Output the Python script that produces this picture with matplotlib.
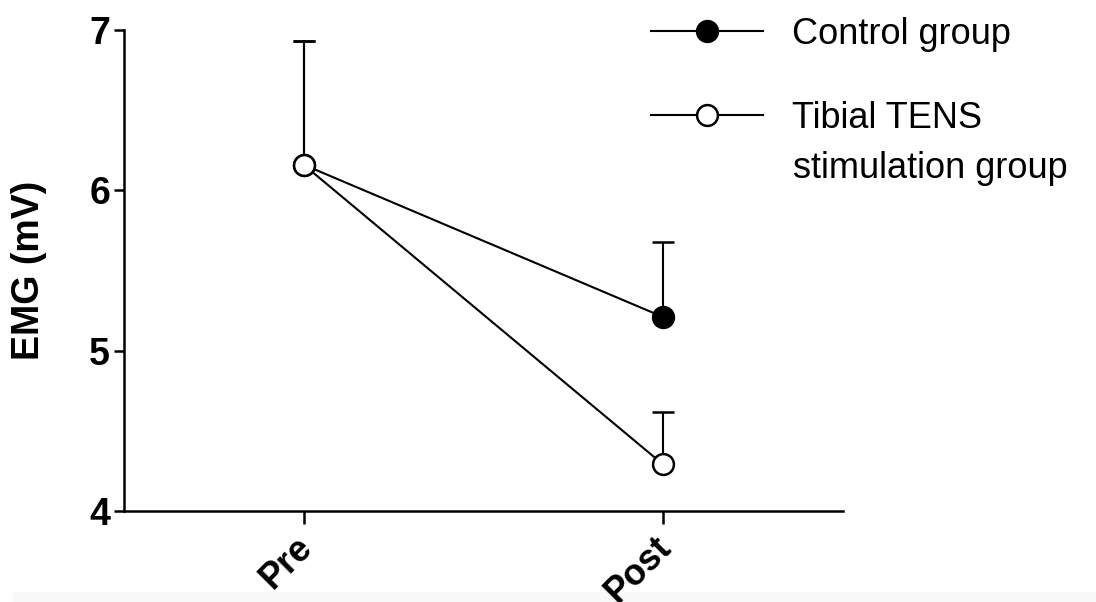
import matplotlib
matplotlib.use("Agg")
import matplotlib.pyplot as plt
from matplotlib.lines import Line2D
from matplotlib.patches import Rectangle
from matplotlib.transforms import ScaledTranslation

plt.rcParams['font.family'] = ['Liberation Sans', 'DejaVu Sans']

# data
timepoints = ["Pre", "Post"]
control_mean = [6.16, 5.21]
control_err = [0.77, 0.47]
tens_mean = [6.16, 4.29]
tens_err = [0.77, 0.33]

fig = plt.figure(figsize=(10.96, 6.02), dpi=100)
fig.set_facecolor("white")
# faint grey strip along the bottom edge, as in the screenshot
fig.patches.append(Rectangle((0.012, 0), 0.988, 10 / 602, transform=fig.transFigure,
                             facecolor="#f8f8f8", edgecolor="none", zorder=-5))
ax = fig.add_axes([0.1131, 0.1512, 0.769 - 0.1131, 0.950 - 0.1512])

xs = list(range(len(timepoints)))

# upward-only error bars
ctrl = ax.errorbar(xs, control_mean, yerr=[[0] * len(xs), control_err],
                   color="black", lw=1.5, elinewidth=1.5, capsize=8, capthick=1.5,
                   marker="o", markersize=15, markerfacecolor="black",
                   markeredgecolor="black", markeredgewidth=1.8, zorder=3)
tens = ax.errorbar(xs, tens_mean, yerr=[[0] * len(xs), tens_err],
                   color="black", lw=1.5, elinewidth=1.5, capsize=8, capthick=1.5,
                   marker="o", markersize=15, markerfacecolor="white",
                   markeredgecolor="black", markeredgewidth=1.8, zorder=4)

ax.set_xlim(-0.5, 1.5)
ax.set_ylim(4, 7)
ax.set_yticks([4, 5, 6, 7])
ax.set_xticks(xs)

for side in ["top", "right"]:
    ax.spines[side].set_visible(False)
for side in ["left", "bottom"]:
    ax.spines[side].set_linewidth(1.8)
ax.tick_params(axis="y", length=7, width=1.8, pad=3)
ax.tick_params(axis="x", length=9, width=1.8, pad=8)

ax.set_xticklabels(timepoints, rotation=45, ha="right", rotation_mode="anchor",
                   fontsize=26, fontweight="bold")
# nudge the rotated labels like the original
shift = ScaledTranslation(-9 / 100, 5 / 100, fig.dpi_scale_trans)
for lbl in ax.get_xticklabels():
    lbl.set_transform(lbl.get_transform() + shift)
for lbl in ax.get_yticklabels():
    lbl.set_fontsize(27)
    lbl.set_fontweight("bold")
ax.set_ylabel("EMG (mV)", fontsize=27, fontweight="bold", labelpad=30)

h_ctrl = Line2D([], [], color="black", lw=1.5, marker="o", markersize=15,
                markerfacecolor="black", markeredgecolor="black", markeredgewidth=1.8)
h_tens = Line2D([], [], color="black", lw=1.5, marker="o", markersize=15,
                markerfacecolor="white", markeredgecolor="black", markeredgewidth=1.8)
leg = fig.legend([h_ctrl, h_tens], ["Control group", "Tibial TENS"],
                 loc="upper left", bbox_to_anchor=(651 / 1096, 0.972),
                 frameon=False, fontsize=26, handlelength=3.1, handletextpad=0.8,
                 labelspacing=1.35, borderpad=0, borderaxespad=0)
fig.text(793 / 1096, 1 - 168 / 602, "stimulation group", fontsize=26,
         va="center", ha="left")

fig.savefig("out.png", dpi=100, facecolor="white")
